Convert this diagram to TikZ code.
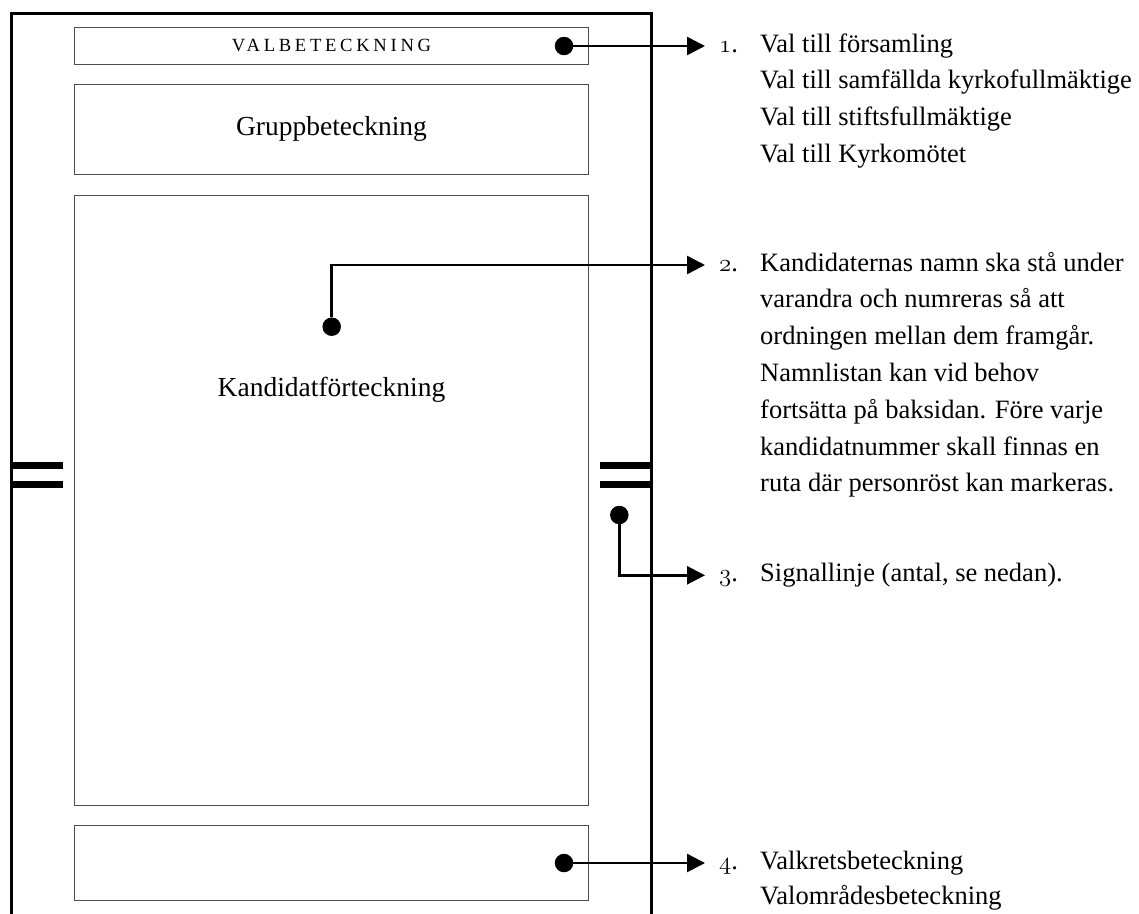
\documentclass[tikz,border=0pt]{standalone}
\usepackage{fontspec}
\setmainfont{Liberation Serif}
\usetikzlibrary{arrows.meta,positioning}
\tikzset{>=stealth}
\newcommand\osn[1]{{\usefont{OML}{lmm}{m}{it}#1}}
\tikzset{
  frame/.style={line width=2.8pt, black},
  field/.style={draw=black!70, line width=1pt, minimum width=513.6pt, inner sep=0pt,
    font=\fontsize{27.5}{33}\selectfont},
  dot/.style={circle, fill=black, inner sep=0pt, minimum size=18.5pt},
  conn/.style={line width=2.6pt, -{Triangle[length=18pt,width=18pt]}},
  notetext/.style={anchor=base west, inner sep=0pt, font=\fontsize{26.5}{33}\selectfont},
}
\begin{document}
\begin{tikzpicture}[x=1pt,y=-1pt]
\useasboundingbox (0,0) rectangle (1139,913);

% the ballot, open at the bottom
\draw[frame] (11.5,920) -- (11.5,13.5) -- (651.5,13.5) -- (651.5,920);
\node[field, minimum height=36.7pt] (valbet) at (331.5,45.7)
  {\fontsize{18.6}{20}\selectfont\addfontfeatures{LetterSpace=20}VALBETECKNING};
\node[field, minimum height=89.8pt] (grupp) at (331.5,129.2) {Gruppbeteckning};
\node[field, minimum height=610pt] (kand) at (331.5,500) {};
\node[field, draw=none, anchor=center] (kandtext) at (331.5,390) {Kandidatförteckning};
\node[field, minimum height=75pt] (valkrets) at (331.5,862.5) {};

% signal lines
\foreach \y in {465.5,484.5} {
  \fill (11.5,\y-3.5) rectangle (63,\y+3.5);
  \fill (600,\y-3.5) rectangle (651.5,\y+3.5);
}

% pointers
\node[dot] (d1) at (564,46) {};
\node[dot] (d2) at (331.7,326.7) {};
\node[dot] (d3) at (619.3,515) {};
\node[dot] (d4) at (564,863) {};
\coordinate (e1) at (705,46);
\coordinate (e2) at (705,265);
\coordinate (e3) at (705,575.3);
\coordinate (e4) at (705,863);
\draw[conn] (d1) -- (e1);
\draw[conn] (d2) |- (e2);
\draw[conn] (d3) |- (e3);
\draw[conn] (d4) -- (e4);

% notes
\node[notetext] (num1) at (719,52) {\osn{1}.};
\node[notetext] (num2) at (719,271) {\osn{2}.};
\node[notetext] (num3) at (719,581.3) {\osn{3}.};
\node[notetext] (num4) at (719,869) {\osn{4}.};
\foreach \txt [count=\i] in {Val till församling, Val till samfällda kyrkofullmäktige,
    Val till stiftsfullmäktige, Val till Kyrkomötet}
  \node[notetext] (note1-\i) at (760,{52+36.8*(\i-1)}) {\txt};
\foreach \txt [count=\i] in {Kandidaternas namn ska stå under, varandra och numreras så att,
    ordningen mellan dem framgår., Namnlistan kan vid behov,
    fortsätta på baksidan. Före varje, kandidatnummer skall finnas en,
    ruta där personröst kan markeras.}
  \node[notetext] (note2-\i) at (760,{271+36.8*(\i-1)}) {\txt};
\node[notetext] (note3-1) at (760,581.3) {Signallinje (antal, se nedan).};
\foreach \txt [count=\i] in {Valkretsbeteckning, Valområdesbeteckning}
  \node[notetext] (note4-\i) at (760,{869+35*(\i-1)}) {\txt};
\end{tikzpicture}
\end{document}
